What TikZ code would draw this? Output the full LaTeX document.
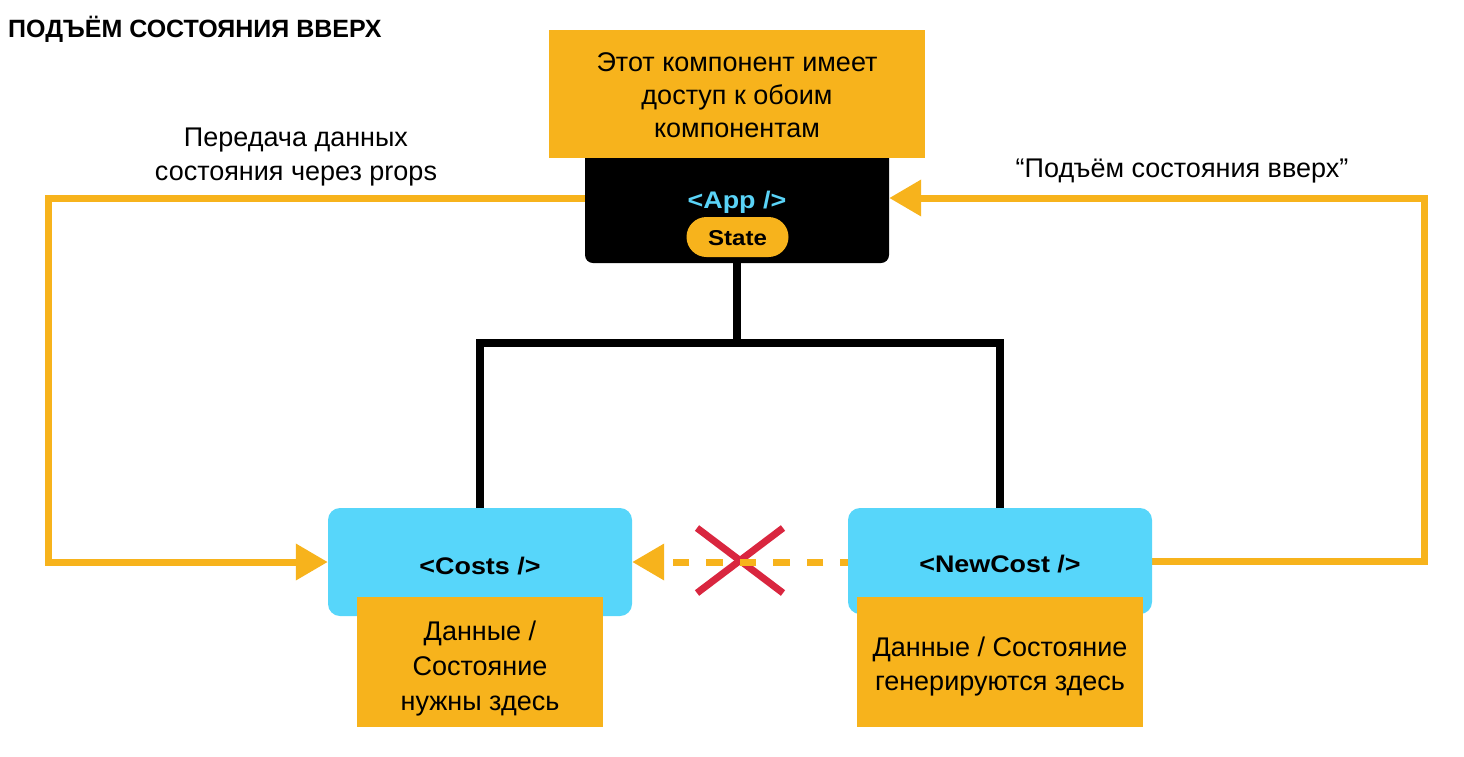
\documentclass[tikz,border=0pt]{standalone}
\usepackage{fontspec}
\setmainfont{Liberation Sans}
\newfontfamily\compfont{Liberation Sans}[FakeStretch=1.12]
\usetikzlibrary{arrows.meta}
\pgfdeclarelayer{background}
\pgfsetlayers{background,main}
\definecolor{orng}{HTML}{F7B31C}
\definecolor{cyanbox}{HTML}{57D6FA}
\definecolor{apptxt}{HTML}{5AD3F7}
\definecolor{crossred}{HTML}{D9263F}
\begin{document}
\begin{tikzpicture}[x=1pt,y=-1pt,
  body/.style={font=\fontsize{27}{34}\selectfont, align=center, inner sep=0pt},
  note/.style={fill=orng, inner sep=0pt},
  comp/.style={fill=cyanbox, rounded corners=12pt, inner sep=0pt},
  complbl/.style={inner sep=0pt, anchor=base, font=\compfont\bfseries\fontsize{24}{28}\selectfont},
  appbox/.style={fill=black, rounded corners=8pt, inner sep=0pt, minimum width=304pt, minimum height=130pt},
  pill/.style={fill=orng, rounded corners=20pt, inner sep=0pt, minimum width=102pt, minimum height=40pt},
  tree/.style={line width=8pt, black},
  flow/.style={line width=7pt, orng, -{Triangle[length=32pt,width=35pt]}},
  crossline/.style={crossred, line width=7pt}
]
\useasboundingbox (0,0) rectangle (1464,756);

% title
\node[anchor=base west, inner sep=0pt, font=\bfseries\fontsize{25}{30}\selectfont] (title) at (8,37) {ПОДЪЁМ СОСТОЯНИЯ ВВЕРХ};

% App component
\node[appbox] (App) at (737,198) {};
\node[complbl, text=apptxt] (applbl) at (737,208) {<App />};
\node[pill] (state) at (737.5,237) {};
\node[complbl, font=\compfont\bfseries\fontsize{21.5}{25}\selectfont] (statelbl) at (737.5,245) {State};

% top note (anchor=base = baseline of last line)
\node[note, minimum width=376pt, minimum height=128pt] (top) at (737,94) {};
\node[body, anchor=base, font=\fontsize{27}{33}\selectfont] (toptxt) at (737,137) {Этот компонент имеет\\доступ к обоим\\компонентам};

% child components
\node[comp, minimum width=304pt, minimum height=108pt] (Costs) at (480,562) {};
\node[complbl] (costslbl) at (480,574) {<Costs />};
\node[comp, minimum width=304pt, minimum height=106pt] (NewCost) at (1000,561) {};
\node[complbl] (newcostlbl) at (1000,572) {<NewCost />};

% notes under children
\node[note, minimum width=246pt, minimum height=130pt] (costsnote) at (480,662) {};
\node[body, anchor=base, font=\fontsize{27}{35}\selectfont] (coststxt) at (480,710) {Данные /\\Состояние\\нужны здесь};
\node[note, minimum width=286pt, minimum height=130pt] (newnote) at (1000,662) {};
\node[body, anchor=base] (newtxt) at (1000,690) {Данные / Состояние\\генерируются здесь};

% side labels
\node[body, anchor=base] (leftlbl) at (296,180) {Передача данных\\состояния через props};
\node[body, anchor=base] (rightlbl) at (1182,177) {“Подъём состояния вверх”};

\coordinate (L) at (48,0);
\coordinate (R) at (1424,0);

% connectors under the boxes
\begin{pgfonlayer}{background}
\draw[tree] (App.south) -- ++(0,80) coordinate (bus) -| (Costs.north);
\draw[tree] (bus) -| (NewCost.north);
\draw[flow, line join=miter] (App.west) -- (App.west -| L) |- (Costs.west);
\draw[flow, line join=miter, line cap=round] (NewCost.east) -- (NewCost.east -| R) |- (App.east);
\draw[crossline] (697,528) -- (783,593);
\draw[crossline] (783,528) -- (697,593);
\draw[flow, dash pattern=on 16.5pt off 17pt, dash phase=9pt] (Costs.east -| NewCost.west) -- (Costs.east);
\end{pgfonlayer}
\end{tikzpicture}
\end{document}
